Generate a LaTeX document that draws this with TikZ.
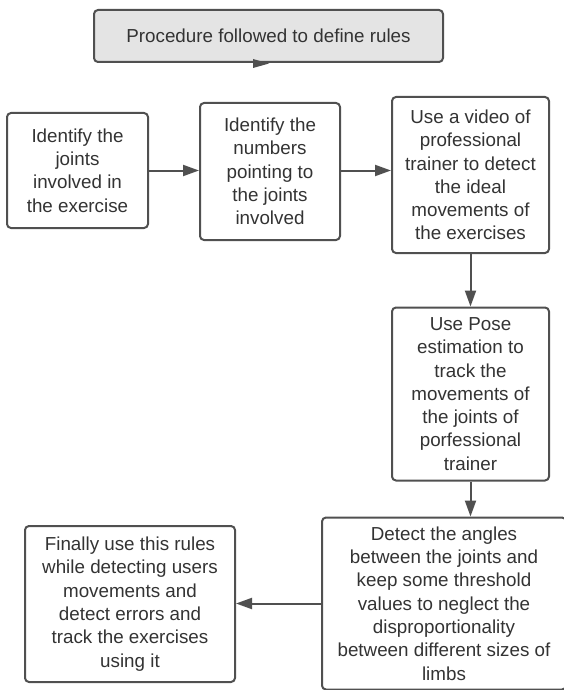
\documentclass[tikz,border=0pt]{standalone}
\usepackage{fontspec}
\setmainfont{Liberation Sans}
\usetikzlibrary{arrows.meta}
\definecolor{edgegray}{HTML}{505050}
\definecolor{txtgray}{HTML}{333333}
\definecolor{titlefill}{HTML}{E4E4E4}
\begin{document}
\begin{tikzpicture}[x=1pt,y=-1pt,
  box/.style={draw=edgegray,line width=2pt,rounded corners=4pt,fill=white,
    text=txtgray,align=center,inner sep=0pt,
    font=\fontsize{18.8}{23.3}\selectfont},
  arr/.style={draw=edgegray,line width=2pt,
    -{Triangle[length=16pt,width=11pt]}}]
\useasboundingbox[fill=white] (0,0) rectangle (563,690);

\node[box,fill=titlefill,minimum width=349pt,minimum height=52pt] (title) at (268.5,36)
  {Procedure followed to define rules};
\coordinate (tip) at (253,63);
\fill[edgegray] (253,59) -- (253,68) -- (269,63.5) -- cycle;

\node[box,minimum width=141pt,minimum height=115pt] (b1) at (77.5,170.5)
  {Identify the\\joints\\involved in\\the exercise};
\node[box,minimum width=140pt,minimum height=137pt] (b2) at (270,171.5)
  {Identify the\\numbers\\pointing to\\the joints\\involved};
\node[box,minimum width=157pt,minimum height=156pt] (b3) at (470.5,175)
  {Use a video of\\professional\\trainer to detect\\the ideal\\movements of\\the exercises};
\node[box,minimum width=157pt,minimum height=173pt] (b4) at (470.5,394)
  {Use Pose\\estimation to\\track the\\movements of\\the joints of\\porfessional\\trainer};
\node[box,minimum width=244pt,minimum height=172pt] (b5) at (444,603.5)
  {Detect the angles\\between the joints and\\keep some threshold\\values to neglect the\\disproportionality\\between different sizes of\\limbs};
\node[box,minimum width=210pt,minimum height=156pt] (b6) at (130,604)
  {Finally use this rules\\while detecting users\\movements and\\detect errors and\\track the exercises\\using it};

\draw[arr] (b1.east) -- (b1.east -| b2.west);
\draw[arr] (b2.east |- b1.east) -- (b1.east -| b3.west);
\draw[arr] (b3.south) -- (b4.north);
\draw[arr] (b4.south) -- (b4.south |- b5.north);
\draw[arr] (b5.west) -- (b5.west -| b6.east);
\end{tikzpicture}
\end{document}
